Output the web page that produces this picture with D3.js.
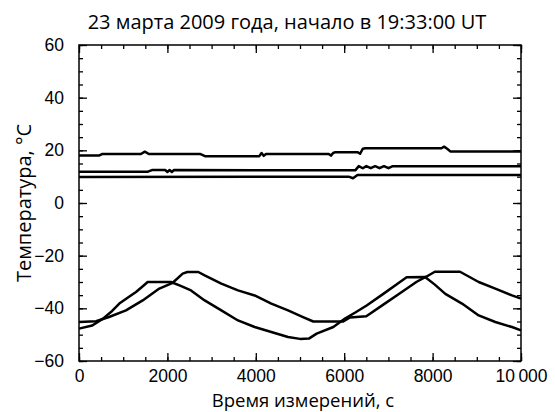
<!DOCTYPE html>
<html>
<head>
<meta charset="utf-8">
<script src="https://cdn.jsdelivr.net/npm/d3@7"></script>
<style>
  html, body { margin: 0; padding: 0; background: #fff; }
  svg { display: block; font-family: "Open Sans", "Noto Sans", sans-serif; }
</style>
</head>
<body>
<svg id="chart" width="555" height="412"></svg>
<script>
// ---- data ----
const title = "23 марта 2009 года, начало в 19:33:00 UT";
const xLabel = "Время измерений, с";
const yLabel = "Температура, °C";
const xTicks = [0, 2000, 4000, 6000, 8000, 10000];
const yTicks = [-60, -40, -20, 0, 20, 40, 60];

// series A (upper flat, ~18–21 °C)
const aTime = [0, 450, 520, 1400, 1490, 1580, 2750, 2850, 4080, 4130, 4180, 4230, 5650, 5700, 5750, 5800, 6300, 6360, 6420, 6480, 8200, 8260, 8330, 8400, 10000];
const aTemp = [18.0, 18.0, 18.6, 18.6, 19.5, 18.6, 18.6, 17.8, 17.8, 19.0, 17.9, 18.6, 18.6, 18.0, 19.0, 19.3, 19.3, 18.7, 20.6, 20.8, 20.8, 21.4, 20.6, 19.6, 19.6];
// series B (middle flat, ~12–14 °C)
const bTime = [0, 1560, 1650, 1950, 2000, 2050, 2100, 2150, 6250, 6330, 6420, 6500, 6600, 6700, 6800, 6900, 7000, 7100, 10000];
const bTemp = [11.9, 11.9, 12.5, 12.5, 11.8, 12.5, 11.8, 12.5, 12.4, 14.0, 13.2, 14.0, 13.2, 14.0, 13.2, 14.0, 13.2, 14.0, 14.0];
// series C (lower flat, ~10 °C)
const cTime = [0, 6100, 6200, 6300, 10000];
const cTemp = [9.9, 10.0, 9.4, 10.6, 10.6];
// series D (oscillating, earlier phase)
const dTime = [0, 300, 535, 750, 912, 1100, 1290, 1450, 1554, 2080, 2300, 2534, 2843, 3220, 3597, 3974, 4351, 4729, 5000, 5200, 5377, 5754, 6018, 6260, 6508, 6885, 7262, 7413, 7830, 8050, 8288, 8665, 9043, 9419, 9796, 10000];
const dTemp = [-47.7, -46.5, -44.0, -41.0, -38.2, -36.0, -33.8, -31.5, -30.0, -30.0, -31.5, -33.2, -37.0, -40.8, -44.6, -47.1, -49.0, -50.9, -51.6, -51.5, -49.6, -47.1, -43.9, -41.5, -38.9, -34.5, -30.0, -28.2, -28.1, -31.0, -34.5, -38.2, -42.7, -45.2, -47.1, -48.4];
// series E (oscillating, later phase)
const eTime = [0, 385, 680, 1063, 1441, 1817, 2120, 2346, 2450, 2700, 2843, 3220, 3597, 3974, 4351, 4729, 5068, 5300, 5980, 6130, 6500, 6885, 7262, 7640, 7866, 8050, 8620, 9043, 9419, 9796, 10000];
const eTemp = [-45.2, -44.9, -43.3, -40.8, -37.0, -32.5, -30.3, -26.8, -26.2, -26.2, -27.5, -30.6, -33.2, -35.1, -38.2, -40.8, -43.3, -45.0, -45.0, -43.5, -43.0, -38.6, -34.3, -29.9, -27.9, -26.1, -26.1, -30.0, -32.5, -35.1, -36.3];

const series = [
  [aTime, aTemp], [bTime, bTemp], [cTime, cTemp], [dTime, dTemp], [eTime, eTemp]
];

// ---- layout ----
const svg = d3.select("#chart");
const L = 79, R = 521, T = 45, B = 361;
const x = d3.scaleLinear().domain([0, 10000]).range([L, R]);
const y = d3.scaleLinear().domain([-60, 60]).range([B, T]);

const fmtX = d => d === 10000 ? "10\u2009000" : String(d);
const fmtY = d => d < 0 ? "\u2212" + Math.abs(d) : String(d);

const minorX = d3.range(0, 10001, 500);
const minorY = d3.range(-60, 61, 5);

function styleAxis(g) {
  g.select(".domain").remove();
  g.selectAll(".tick line").attr("stroke", "#000").attr("stroke-width", 1.3);
  g.selectAll(".tick text").attr("fill", "#000").attr("font-size", 17.5);
}

// minor ticks
svg.append("g").attr("transform", `translate(0,${B})`)
  .call(d3.axisBottom(x).tickValues(minorX).tickSize(-4).tickFormat("")).call(styleAxis);
svg.append("g").attr("transform", `translate(0,${T})`)
  .call(d3.axisTop(x).tickValues(minorX).tickSize(-4).tickFormat("")).call(styleAxis);
svg.append("g").attr("transform", `translate(${L},0)`)
  .call(d3.axisLeft(y).tickValues(minorY).tickSize(-4).tickFormat("")).call(styleAxis);
svg.append("g").attr("transform", `translate(${R},0)`)
  .call(d3.axisRight(y).tickValues(minorY).tickSize(-4).tickFormat("")).call(styleAxis);

// major ticks
svg.append("g").attr("transform", `translate(0,${B})`)
  .call(d3.axisBottom(x).tickValues(xTicks).tickSize(-8).tickPadding(9).tickFormat(fmtX)).call(styleAxis);
svg.append("g").attr("transform", `translate(0,${T})`)
  .call(d3.axisTop(x).tickValues(xTicks).tickSize(-8).tickFormat("")).call(styleAxis);
svg.append("g").attr("transform", `translate(${L},0)`)
  .call(d3.axisLeft(y).tickValues(yTicks).tickSize(-8).tickPadding(15).tickFormat(fmtY)).call(styleAxis);
svg.append("g").attr("transform", `translate(${R},0)`)
  .call(d3.axisRight(y).tickValues(yTicks).tickSize(-8).tickFormat("")).call(styleAxis);

// frame
svg.append("rect").attr("x", L).attr("y", T).attr("width", R - L).attr("height", B - T)
  .attr("fill", "none").attr("stroke", "#000").attr("stroke-width", 1.5);

// lines
const line = d3.line().x(d => x(d[0])).y(d => y(d[1])).curve(d3.curveLinear);
series.forEach(([ts, vs]) => {
  svg.append("path")
    .datum(ts.map((t, i) => [t, vs[i]]))
    .attr("d", line)
    .attr("fill", "none")
    .attr("stroke", "#000")
    .attr("stroke-width", 2.5)
    .attr("stroke-linejoin", "round");
});

// texts
svg.append("text").attr("x", (L + R) / 2 - 13).attr("y", 29).attr("text-anchor", "middle")
  .attr("font-size", 20).attr("fill", "#000").text(title);
svg.append("text").attr("x", (L + R) / 2 + 3).attr("y", 406.5).attr("text-anchor", "middle")
  .attr("font-size", 18.5).attr("fill", "#000").text(xLabel);
svg.append("text").attr("transform", `translate(31,${(T + B) / 2}) rotate(-90)`)
  .attr("text-anchor", "middle").attr("font-size", 20).attr("fill", "#000").text(yLabel);
</script>
</body>
</html>
